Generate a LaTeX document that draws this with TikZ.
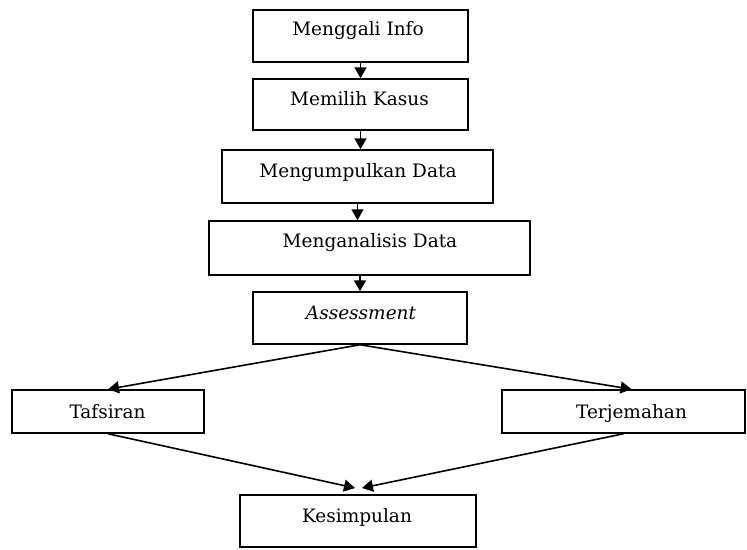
\documentclass[tikz,border=0pt]{standalone}
\usepackage{fontspec}
\setmainfont{DejaVu Serif}
\usetikzlibrary{arrows.meta}
\begin{document}
\begin{tikzpicture}[x=1pt,y=-1pt,
  box/.style={draw, line width=1.5pt, inner sep=0pt},
  lbl/.style={inner sep=0pt, anchor=base, font=\fontsize{18.5}{22}\selectfont},
  flow/.style={line width=1.6pt, -{Triangle[length=11pt,width=12pt]}}]
\useasboundingbox (0,0) rectangle (747,549);

% process boxes
\node[box, minimum width=215pt, minimum height=52pt] (b1) at (360.5,36) {};
\node[box, minimum width=215pt, minimum height=51pt] (b2) at (360.5,104.5) {};
\node[box, minimum width=271pt, minimum height=53pt] (b3) at (357.5,176.5) {};
\node[box, minimum width=321pt, minimum height=54pt] (b4) at (369.5,248) {};
\node[box, minimum width=214pt, minimum height=52pt] (b5) at (360,318) {};
\node[box, minimum width=192pt, minimum height=43pt] (taf) at (108,411.5) {};
\node[box, minimum width=243pt, minimum height=43pt] (ter) at (623.5,411.5) {};
\node[box, minimum width=236pt, minimum height=52pt] (kes) at (358,521) {};

% labels
\node[lbl] (t1) at (358,35) {Menggali Info};
\node[lbl] (t2) at (359.5,105) {Memilih Kasus};
\node[lbl] (t3) at (358,177) {Mengumpulkan Data};
\node[lbl] (t4) at (370,247) {Menganalisis Data};
\node[lbl] (t5) at (361,319) {\itshape Assessment};
\node[lbl] (t6) at (107.5,418) {Tafsiran};
\node[lbl] (t7) at (631.5,418) {Terjemahan};
\node[lbl] (t8) at (357,522) {Kesimpulan};

% arrow ends above the final box
\coordinate (kin1) at (355,488);
\coordinate (kin2) at (362,488);

% connectors
\draw[flow] (b1.south) -- (b1.south |- b2.north);
\draw[flow] (b2.south) -- (b2.south |- b3.north);
\draw[flow] (b3.south) -- (b3.south |- b4.north);
\draw[flow] (b5.north |- b4.south) -- (b5.north);
\draw[flow] (b5.south) -- (taf.north);
\draw[flow] (b5.south) -- (t7 |- ter.north);
\draw[flow] (taf.south) -- (kin1);
\draw[flow] (ter.south) -- (kin2);
\end{tikzpicture}
\end{document}
